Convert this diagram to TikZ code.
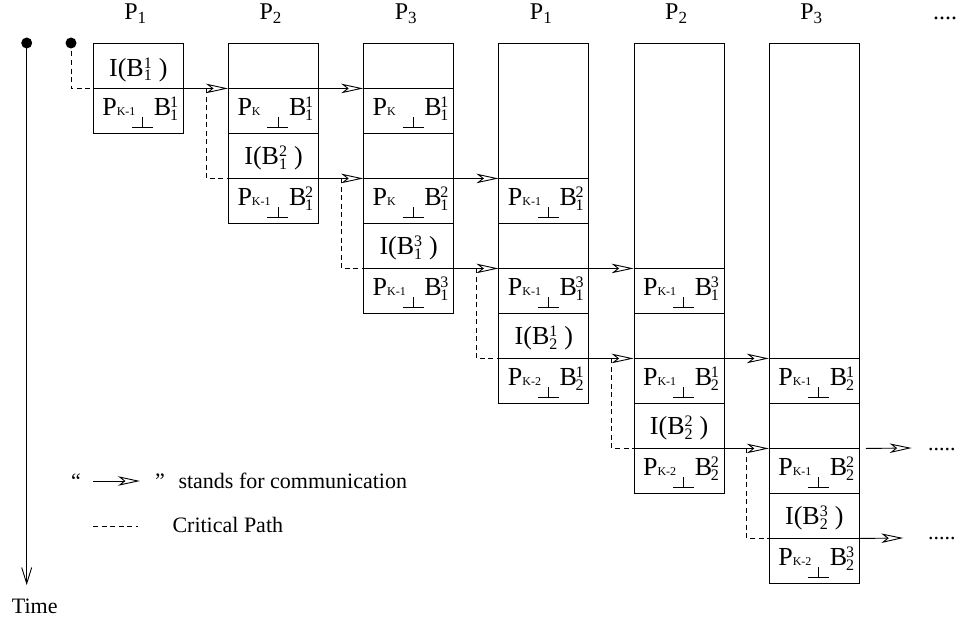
\documentclass[tikz,border=0pt]{standalone}
\usepackage{fontspec}
\setmainfont{Liberation Serif}
\usetikzlibrary{arrows.meta}

% text pieces used inside the cells
\newcommand\ksize{\fontsize{12}{12}\selectfont}
\newcommand\dsize{\fontsize{16}{16}\selectfont}
\newcommand\twoscr[2]{\makebox[0pt][l]{\raisebox{7.5pt}{\dsize #1}}\raisebox{-5pt}{\dsize #2}}
\newcommand\perpmark{\makebox[21pt][l]{\rule[-12.4pt]{21pt}{0.9pt}\hspace{-10.95pt}\rule[-12.4pt]{0.9pt}{10pt}}}
\newcommand\cellP[3]{\makebox[90pt][l]{\hspace{9pt}P\makebox[15.5pt][l]{\ksize #1}\perpmark\hspace{0.7pt}B\hspace{-1.3pt}\twoscr{#2}{#3}}}
\newcommand\cellI[2]{I(B\twoscr{#1}{#2}\hspace{7pt})}
\newcommand\hdP[1]{P\raisebox{-3.5pt}{\fontsize{17}{17}\selectfont #1}}

\begin{document}
\begin{tikzpicture}[x=1pt, y=-1pt,
  box/.style={draw, line width=0.9pt, minimum width=90pt, inner sep=0pt,
              font=\fontsize{26}{30}\selectfont},
  pc/.style={box, minimum height=45pt, text height=27pt, text depth=18pt},
  ic/.style={box, minimum height=45pt, text height=31pt, text depth=14pt},
  ec/.style={box, minimum height=#1},
  ec/.default=45pt,
  head/.style={font=\fontsize{24}{28}\selectfont, inner sep=0pt},
  leg/.style={font=\fontsize{22}{26}\selectfont, inner sep=0pt},
  dot/.style={circle, fill, inner sep=0pt, minimum size=11pt},
  comm/.style={line width=0.9pt,
    -{Stealth[open, length=22pt, width=9.5pt, inset=6pt, line width=0.9pt]}},
  crit/.style={line width=0.9pt, dash pattern=on 5pt off 3.5pt},
  tline/.style={line width=0.9pt,
    -{Straight Barb[length=16pt, width=10pt, line width=0.9pt]}}
]
\useasboundingbox (0,0) rectangle (960,634);

% processor headers
\node[head, anchor=base] (h1) at (135.3,20) {\hdP{1}};
\node[head, anchor=base] (h2) at (270.5,20) {\hdP{2}};
\node[head, anchor=base] (h3) at (405.7,20) {\hdP{3}};
\node[head, anchor=base] (h4) at (540.9,20) {\hdP{1}};
\node[head, anchor=base] (h5) at (676.1,20) {\hdP{2}};
\node[head, anchor=base] (h6) at (811.3,20) {\hdP{3}};
\node[head, anchor=base west] (hd) at (933,20) {....};

% time axis and start of the critical path
\node[dot] (dot1) at (26.7,43) {};
\node[dot] (dot2) at (71,43) {};
\coordinate (tend) at (26.7,585);
\draw[tline] (dot1.center) -- (tend);
\node[leg, anchor=base west] (tl) at (11.7,613) {Time};

% column 1
\node[ic, text height=33pt, text depth=12pt] (a1) at (138.3,65.5) {\cellI{1}{1}};
\node[pc] (a2) at (138.3,110.5) {\cellP{K-1}{1}{1}};
% column 2
\node[ec] (b1) at (273.5,65.5) {};
\node[pc] (b2) at (273.5,110.5) {\cellP{K}{1}{1}};
\node[ic] (b3) at (273.5,155.5) {\cellI{2}{1}};
\node[pc] (b4) at (273.5,200.5) {\cellP{K-1}{2}{1}};
% column 3
\node[ec] (c1) at (408.7,65.5) {};
\node[pc] (c2) at (408.7,110.5) {\cellP{K}{1}{1}};
\node[ec] (c3) at (408.7,155.5) {};
\node[pc] (c4) at (408.7,200.5) {\cellP{K}{2}{1}};
\node[ic] (c5) at (408.7,245.5) {\cellI{3}{1}};
\node[pc] (c6) at (408.7,290.5) {\cellP{K-1}{3}{1}};
% column 4
\node[ec=135pt] (d1) at (543.9,110.5) {};
\node[pc] (d2) at (543.9,200.5) {\cellP{K-1}{2}{1}};
\node[ec] (d3) at (543.9,245.5) {};
\node[pc] (d4) at (543.9,290.5) {\cellP{K-1}{3}{1}};
\node[ic] (d5) at (543.9,335.5) {\cellI{1}{2}};
\node[pc] (d6) at (543.9,380.5) {\cellP{K-2}{1}{2}};
% column 5
\node[ec=225pt] (e1) at (679.1,155.5) {};
\node[pc] (e2) at (679.1,290.5) {\cellP{K-1}{3}{1}};
\node[ec] (e3) at (679.1,335.5) {};
\node[pc] (e4) at (679.1,380.5) {\cellP{K-1}{1}{2}};
\node[ic] (e5) at (679.1,425.5) {\cellI{2}{2}};
\node[pc] (e6) at (679.1,470.5) {\cellP{K-2}{2}{2}};
% column 6
\node[ec=315pt] (f1) at (814.3,200.5) {};
\node[pc] (f2) at (814.3,380.5) {\cellP{K-1}{1}{2}};
\node[ec] (f3) at (814.3,425.5) {};
\node[pc] (f4) at (814.3,470.5) {\cellP{K-1}{2}{2}};
\node[ic] (f5) at (814.3,515.5) {\cellI{3}{2}};
\node[pc] (f6) at (814.3,560.5) {\cellP{K-2}{3}{2}};

% communications
\draw[comm] (a1.south east) -- (b1.south west);
\draw[comm] (b1.south east) -- (c1.south west);
\draw[comm] (b3.south east) -- (c3.south west);
\draw[comm] (c3.south east) -- (d1.south west);
\draw[comm] (c5.south east) -- (d3.south west);
\draw[comm] (d3.south east) -- (e1.south west);
\draw[comm] (d5.south east) -- (e3.south west);
\draw[comm] (e3.south east) -- (f1.south west);
\draw[comm] (e5.south east) -- (f3.south west);
\coordinate (o1) at (911.7,448);
\coordinate (o2) at (903.3,538);
\draw[comm] ([xshift=6pt]f3.south east) -- (o1);
\draw[comm] (f5.south east) -- (o2);
\node[leg, anchor=base west] (m1) at (928,450) {.....};
\node[leg, anchor=base west] (m2) at (928,539) {.....};

% critical path
\draw[crit] (dot2.center) |- (a1.south west);
\draw[crit] ([xshift=-22pt]b1.south west) |- (b3.south west);
\draw[crit] ([xshift=-22pt]c3.south west) |- (c5.south west);
\draw[crit] ([xshift=-22pt]d3.south west) |- (d5.south west);
\draw[crit] ([xshift=-22pt]e3.south west) |- (e5.south west);
\draw[crit] ([xshift=-22pt]f3.south west) |- (f5.south west);

% legend
\node[leg, anchor=base west] (q1) at (71,488.3) {“};
\coordinate (l1) at (93.3,481);
\coordinate (l2) at (140,481);
\draw[comm] (l1) -- (l2);
\node[leg, anchor=base west] (q2) at (155,488.3) {”};
\node[leg, anchor=base west] (lt1) at (178.3,488.3) {stands for communication};
\coordinate (l3) at (93.3,526);
\coordinate (l4) at (138.3,526);
\draw[crit] (l3) -- (l4);
\node[leg, anchor=base west] (lt2) at (172.3,532.7) {Critical Path};
\end{tikzpicture}
\end{document}
